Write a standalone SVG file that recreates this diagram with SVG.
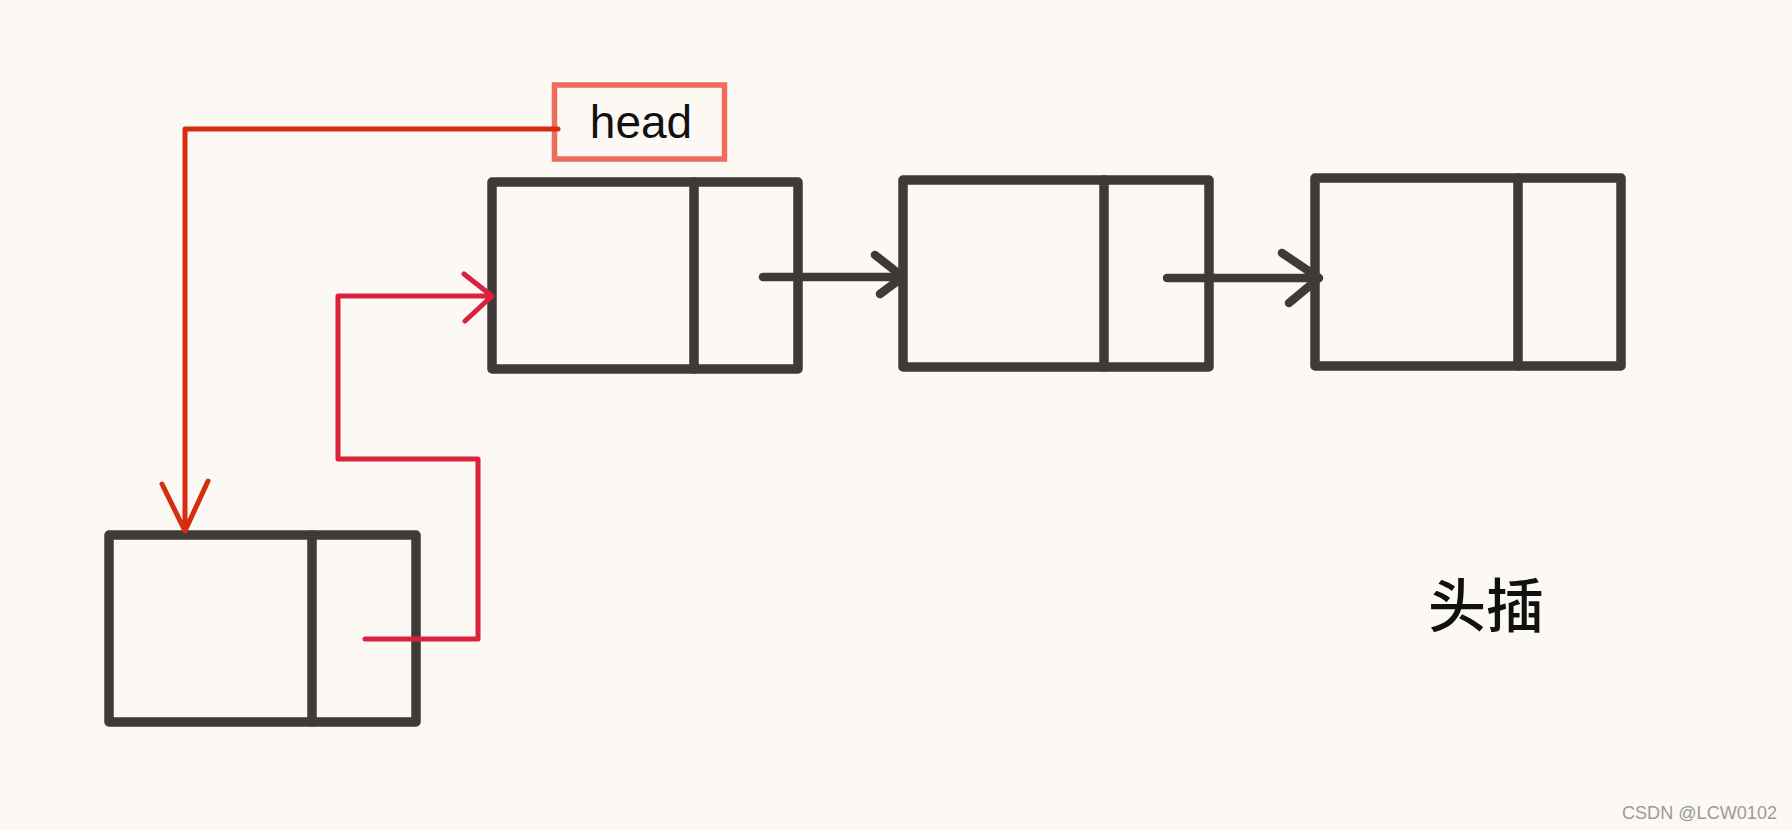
<svg xmlns="http://www.w3.org/2000/svg" width="1792" height="830" viewBox="0 0 1792 830">
  <defs>
    <style>
      .box { fill: none; stroke: #3e3a37; stroke-width: 9.5; stroke-linejoin: round; stroke-linecap: round; }
      .blk { fill: none; stroke: #3e3a37; stroke-width: 8.5; stroke-linecap: round; stroke-linejoin: round; }
      .r1 { fill: none; stroke: #d42d10; stroke-width: 5; stroke-linecap: round; stroke-linejoin: round; }
      .r2 { fill: none; stroke: #dc213d; stroke-width: 5; stroke-linecap: round; stroke-linejoin: round; }
    </style>
  </defs>
  <rect x="0" y="0" width="1792" height="830" fill="#fcf9f4"/>

  <g id="head">
    <rect x="554.5" y="85" width="170" height="74" fill="none" stroke="#ee6b5e" stroke-width="5.5"/>
    <text x="641" y="138" font-family="Liberation Sans, Arial, sans-serif" font-size="46" fill="#111" text-anchor="middle">head</text>
  </g>

  <g id="node1">
    <rect class="box" x="492" y="182" width="306" height="187"/>
    <line class="box" x1="694" y1="182" x2="694" y2="369"/>
  </g>
  <g id="node2">
    <rect class="box" x="903" y="180" width="306" height="187"/>
    <line class="box" x1="1104" y1="180" x2="1104" y2="367"/>
  </g>
  <g id="node3">
    <rect class="box" x="1315" y="178" width="306" height="188"/>
    <line class="box" x1="1518" y1="178" x2="1518" y2="366"/>
  </g>
  <g id="newnode">
    <rect class="box" x="109" y="535" width="307" height="187"/>
    <line class="box" x1="312" y1="535" x2="312" y2="722"/>
  </g>

  <g id="connectors">
    <path class="blk" d="M763 277 H903 M875 255 L903 277 L880 294"/>
    <path class="blk" d="M1167 278 H1319 M1282 253 L1319 278 L1289 303"/>
    <path class="r1" d="M558 129 H185 V531 M162 484 L185 531 L208 481"/>
    <path class="r2" d="M365 639 H478 V459 H338 V296 H492 M464 274 L492 296 L465 321"/>
  </g>

  <g id="labels">
    <text x="1486" y="627" font-family="Noto Sans CJK SC, sans-serif" font-size="58" font-weight="500" fill="#111" text-anchor="middle">头插</text>
    <text x="1777" y="819" font-family="Liberation Sans, Arial, sans-serif" font-size="19" fill="#9a9a9a" text-anchor="end" textLength="155" lengthAdjust="spacingAndGlyphs">CSDN @LCW0102</text>
  </g>
</svg>
